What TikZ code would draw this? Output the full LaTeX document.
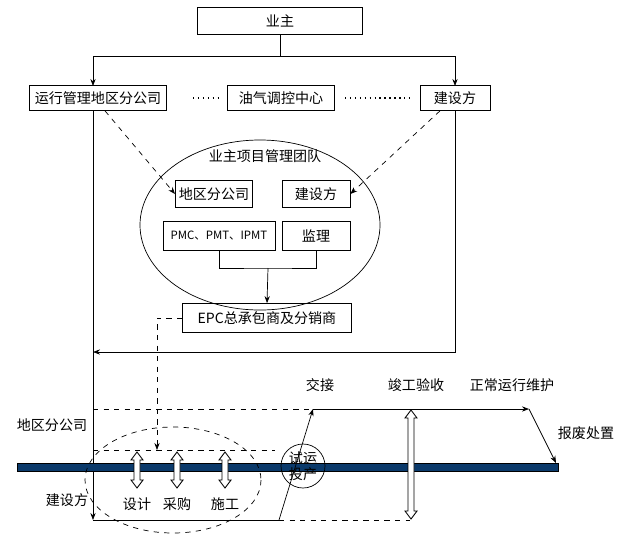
\documentclass[tikz,border=0pt]{standalone}
\usepackage{fontspec}
\setmainfont{Noto Sans CJK SC}
\usetikzlibrary{arrows.meta, positioning, calc}
\definecolor{barblue}{HTML}{0B3A6B}
\tikzset{
    unit/.style={
        rectangle,
        draw=black,
        inner sep=2pt,
        font=\fontsize{8}{9}\selectfont
    },
    tag/.style={
        inner sep=1pt,
        font=\fontsize{8}{9}\selectfont
    },
    wire/.style={
        draw=black,
        -{Stealth[length=4pt,width=3pt]}
    },
    dashwire/.style={
        draw=black,
        dashed,
        -{Stealth[length=4pt,width=3pt]}
    },
    guide/.style={
        draw=black,
        dashed
    },
    hollow/.style={
        draw=black,
        fill=white,
        line width=0.5pt
    }
}
% hollow double-headed arrow: x, top y, bottom y
\newcommand{\hollowarrow}[3]{%
    \draw[hollow] (#1,#2) -- ++(6,8) -- ++(-3,0) -- (#1+3,#3-8) -- ++(3,0)
        -- (#1,#3) -- (#1-6,#3-8) -- ++(3,0) -- (#1-3,#2+8) -- ++(-3,0) -- cycle;}
\begin{document}
\begin{tikzpicture}[x=0.02cm, y=-0.02cm]
\useasboundingbox (0,0) rectangle (631,545);

% Top level
\node[unit, minimum width=3.3cm, minimum height=0.54cm] (owner) at (280,21) {业主};
\node[unit, minimum width=2.74cm, minimum height=0.5cm] (region) at (98,98) {运行管理地区分公司};
\node[unit, minimum width=2.14cm, minimum height=0.5cm] (dispatch) at (281,98) {油气调控中心};
\node[unit, minimum width=1.4cm, minimum height=0.5cm] (builder) at (455,98) {建设方};
\coordinate (split) at (280,56);
\draw[wire] (owner) -- (split) -| (93,86);
\draw[wire] (split) -| (455,86);
\draw[dotted, thick] (193,98) -- (218,98);
\draw[dotted, thick] (345,98) -- (412,98);

% Owner project management team
\draw (260,225) ellipse [x radius=120, y radius=85];
\node[tag] (teamlabel) at (265,156) {业主项目管理团队};
\node[unit, minimum width=1.5cm, minimum height=0.54cm] (t_region) at (214,194) {地区分公司};
\node[unit, minimum width=1.36cm, minimum height=0.54cm] (t_builder) at (316,194) {建设方};
\node[unit, minimum width=2.24cm, minimum height=0.58cm, font=\fontsize{6.5}{8}\selectfont] (pmc) at (219,236) {PMC、PMT、IPMT};
\node[unit, minimum width=1.36cm, minimum height=0.58cm] (supervisor) at (316,236) {监理};
\node[unit, minimum width=3.38cm, minimum height=0.58cm] (epc) at (267,318) {EPC总承包商及分销商};
\coordinate (join) at (268,268);
\draw (pmc.south) |- (join) -| (supervisor.south);
\draw[wire] (join) -- (epc.north);
\draw[dashwire] (region.south) ++(7,0) -- (t_region.west);
\draw[dashwire] ($(builder.south)+(-15,0)$) -- (t_builder.east);

% Feedback frame
\draw[wire] (93,111) -- (93,520);
\draw[wire] (455,111) -- (455,352) -- (93,352);
\draw[dashwire] (epc.west) -| (157,450);

% Life cycle
\draw[guide] (93,409) -- (312,409);
\draw[guide] (93,450) -- (275,450);
\fill[barblue, draw=black, line width=0.3pt] (17,463) rectangle (558,471);
\draw[dashed] (173,480) ellipse [x radius=88, y radius=53];
\foreach \px/\txt in {137/设计, 177/采购, 225/施工} {
    \hollowarrow{\px}{452}{488}
    \node[tag] at (\px,504) {\txt};
}
\node[tag] (lbl_region) at (52,425) {地区分公司};
\node[tag] (lbl_builder) at (67,500) {建设方};
\coordinate (handover) at (313,409);
\coordinate (ops_end) at (529,409);
\draw (93,520) -- (279,520);
\draw[wire] (279,520) -- (handover);
\draw[wire] (handover) -- (ops_end);
\draw[wire] (ops_end) -- (556,463);
\draw[guide] (279,520) -- (410,520);
\hollowarrow{411}{410}{519}
\draw (303,466) circle [radius=22];
\node[tag, align=center] (trial) at (303,466) {试运\\投产};
\node[tag] at (320,385) {交接};
\node[tag] at (416,385) {竣工验收};
\node[tag] at (512,385) {正常运行维护};
\node[tag] at (586,433) {报废处置};
\end{tikzpicture}
\end{document}
